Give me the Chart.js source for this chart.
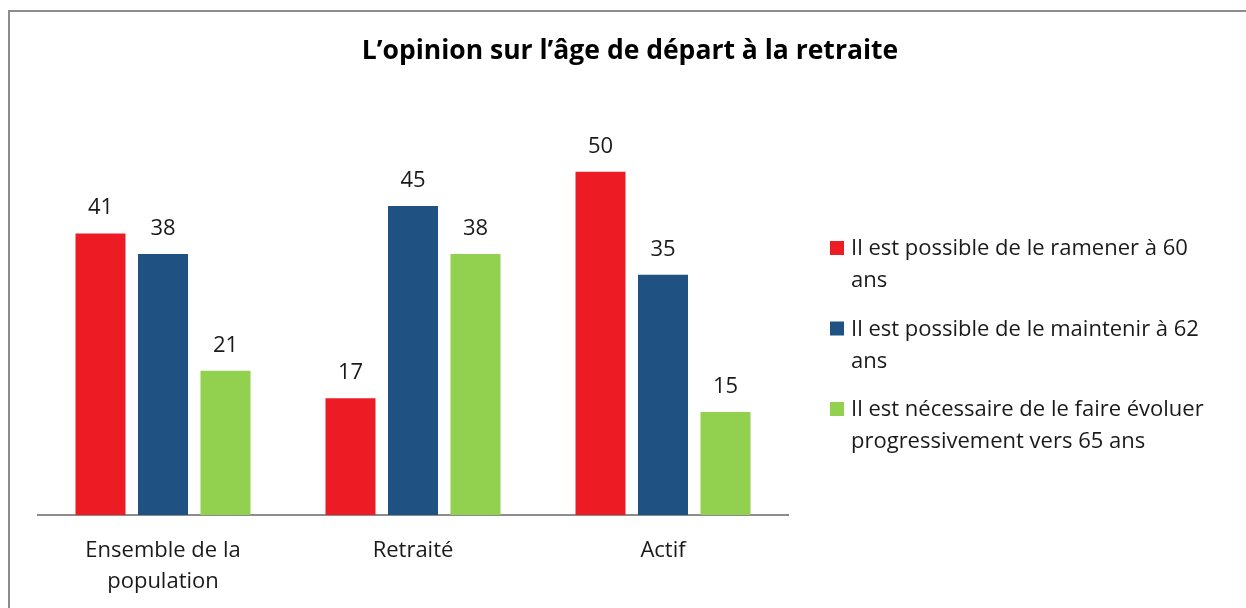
<!DOCTYPE html>
<html>
<head>
<meta charset="utf-8">
<script src="https://cdn.jsdelivr.net/npm/chart.js@4"></script>
<style>
  html, body { margin: 0; padding: 0; background: #fff; }
  #wrap { width: 1246px; height: 608px; }
</style>
</head>
<body>
<div id="wrap"><canvas id="chart" width="1246" height="608"></canvas></div>
<script>
const title = "L’opinion sur l’âge de départ à la retraite";
const categories = [["Ensemble de la", "population"], "Retraité", "Actif"];
const seriesNames = [
  "Il est possible de le ramener à 60 ans",
  "Il est possible de le maintenir à 62 ans",
  "Il est nécessaire de le faire évoluer progressivement vers 65 ans"
];
const ramener60 = [41, 17, 50];
const maintenir62 = [38, 45, 35];
const evoluer65 = [21, 38, 15];
const colors = ["#ED1C24", "#1F5283", "#92D050"];

const FONT = "'Open Sans', sans-serif";

// titre, cadre, étiquettes de valeurs et légende dessinés à la main
const decorPlugin = {
  id: "decor",
  afterDraw(chart) {
    const ctx = chart.ctx;
    ctx.save();

    // cadre gris
    ctx.strokeStyle = "#8c8c8c";
    ctx.lineWidth = 2;
    ctx.beginPath();
    ctx.moveTo(9, 608);
    ctx.lineTo(9, 11);
    ctx.lineTo(1246, 11);
    ctx.stroke();

    // titre
    ctx.fillStyle = "#000";
    ctx.font = "bold 26.5px " + FONT;
    ctx.textAlign = "center";
    ctx.textBaseline = "middle";
    ctx.fillText(title, 630, 51);

    // valeurs au-dessus des barres
    ctx.font = "22px " + FONT;
    ctx.fillStyle = "#1a1a1a";
    ctx.textBaseline = "alphabetic";
    chart.data.datasets.forEach((ds, i) => {
      chart.getDatasetMeta(i).data.forEach((bar, j) => {
        ctx.fillText(ds.data[j], bar.x, bar.y - 19);
      });
    });

    // légende à droite
    ctx.textAlign = "left";
    const maxW = 370;
    chart.data.datasets.forEach((ds, i) => {
      const y0 = 255 + i * 80.5;
      ctx.fillStyle = ds.backgroundColor;
      ctx.fillRect(830, y0 - 14, 14, 14);
      ctx.fillStyle = "#1a1a1a";
      const words = ds.label.split(" ");
      let line = "", lines = [];
      words.forEach(w => {
        const test = line ? line + " " + w : w;
        if (ctx.measureText(test).width > maxW && line) {
          lines.push(line);
          line = w;
        } else {
          line = test;
        }
      });
      lines.push(line);
      lines.forEach((l, k) => ctx.fillText(l, 851, y0 + k * 32));
    });

    ctx.restore();
  }
};

new Chart(document.getElementById("chart"), {
  type: "bar",
  data: {
    labels: categories,
    datasets: [
      { label: seriesNames[0], data: ramener60, backgroundColor: colors[0] },
      { label: seriesNames[1], data: maintenir62, backgroundColor: colors[1] },
      { label: seriesNames[2], data: evoluer65, backgroundColor: colors[2] }
    ]
  },
  options: {
    responsive: false,
    animation: false,
    datasets: { bar: { categoryPercentage: 0.75, barPercentage: 0.8 } },
    layout: { padding: { left: 38, right: 458, top: 103, bottom: 0 } },
    plugins: {
      legend: { display: false },
      title: { display: false },
      tooltip: { enabled: false }
    },
    scales: {
      x: {
        grid: { display: false },
        border: { display: true, color: "#8c8c8c", width: 2 },
        afterFit: (scale) => { scale.height = 93; },
        ticks: {
          color: "#1a1a1a",
          padding: 12,
          maxRotation: 0,
          autoSkip: false,
          font: { family: FONT, size: 22, lineHeight: 1.41 }
        }
      },
      y: {
        display: false,
        min: 0,
        max: 60
      }
    }
  },
  plugins: [decorPlugin]
});
</script>
</body>
</html>
